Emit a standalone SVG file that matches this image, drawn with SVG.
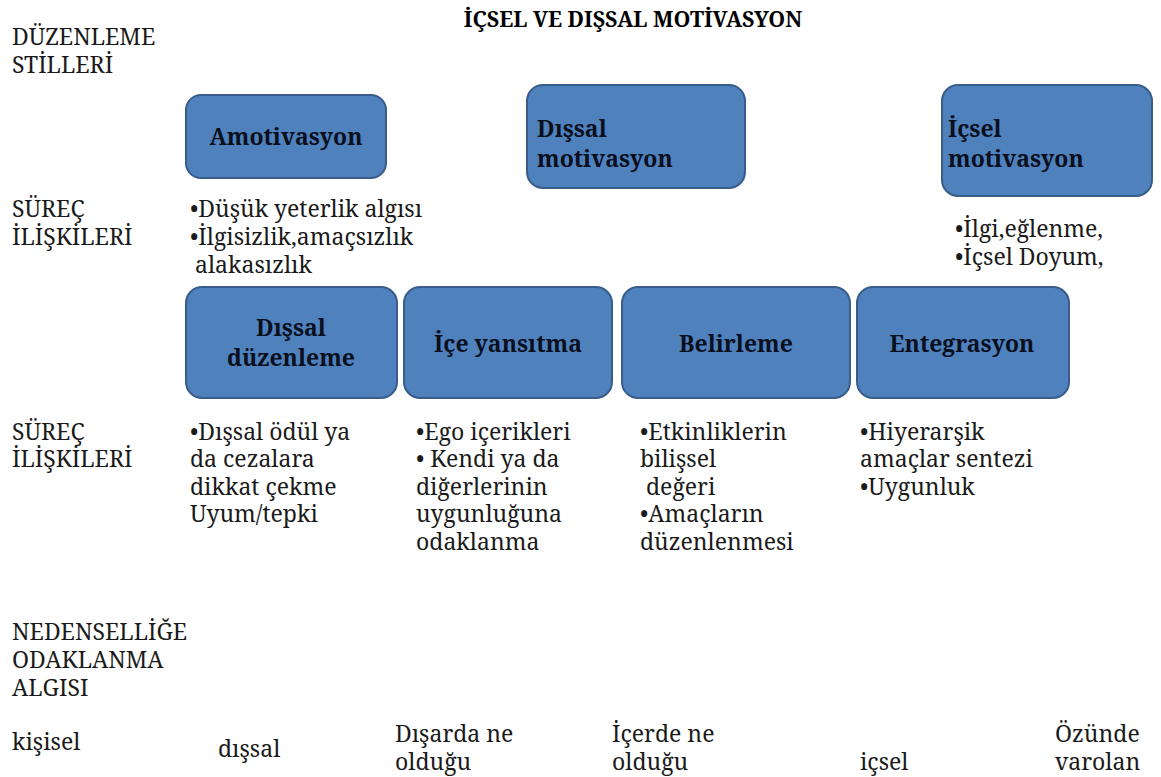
<svg xmlns="http://www.w3.org/2000/svg" width="1161" height="777" viewBox="0 0 1161 777">
<style>
.t{font-size:23px;fill:#1a1a1a}
.b{font-size:23px;font-weight:bold;fill:#0a0f1e}
.title{font-size:21.5px;font-weight:bold;fill:#000}
.box{fill:#4f81bd;stroke:#385d8a;stroke-width:2}
</style>
<rect width="1161" height="777" fill="#fff"/>
<g font-family="Noto Serif, DejaVu Serif">
<text class="title" x="633" y="27" text-anchor="middle">İÇSEL VE DIŞSAL MOTİVASYON</text>
<g id="labels">
<text class="t" x="12" y="45">DÜZENLEME</text>
<text class="t" x="12" y="73">STİLLERİ</text>
<text class="t" x="12" y="217">SÜREÇ</text>
<text class="t" x="12" y="245">İLİŞKİLERİ</text>
<text class="t" x="12" y="440">SÜREÇ</text>
<text class="t" x="12" y="467">İLİŞKİLERİ</text>
<text class="t" x="12" y="640">NEDENSELLİĞE</text>
<text class="t" x="12" y="668">ODAKLANMA</text>
<text class="t" x="12" y="696">ALGISI</text>
</g>
<g id="amotivasyon">
<rect class="box" x="186" y="95" width="200" height="83" rx="15"/>
<text class="b" x="286" y="145" text-anchor="middle">Amotivasyon</text>
</g>
<g id="dissal-motivasyon">
<rect class="box" x="527" y="85" width="218" height="103" rx="16"/>
<text class="b" x="537" y="137">Dışsal</text>
<text class="b" x="537" y="167">motivasyon</text>
</g>
<g id="icsel-motivasyon">
<rect class="box" x="942" y="85" width="210" height="111" rx="16"/>
<text class="b" x="948" y="137">İçsel</text>
<text class="b" x="948" y="167">motivasyon</text>
</g>
<g id="dissal-duzenleme">
<rect class="box" x="186" y="287" width="211" height="111" rx="16"/>
<text class="b" x="291" y="336" text-anchor="middle">Dışsal</text>
<text class="b" x="291" y="366" text-anchor="middle">düzenleme</text>
</g>
<g id="ice-yansitma">
<rect class="box" x="404" y="287" width="208" height="111" rx="16"/>
<text class="b" x="508" y="352" text-anchor="middle">İçe yansıtma</text>
</g>
<g id="belirleme">
<rect class="box" x="622" y="287" width="228" height="111" rx="16"/>
<text class="b" x="736" y="352" text-anchor="middle">Belirleme</text>
</g>
<g id="entegrasyon">
<rect class="box" x="857" y="287" width="212" height="111" rx="16"/>
<text class="b" x="962" y="352" text-anchor="middle">Entegrasyon</text>
</g>
<g id="bullets">
<text class="t" x="190" y="217">•Düşük yeterlik algısı</text>
<text class="t" x="190" y="245">•İlgisizlik,amaçsızlık</text>
<text class="t" x="195" y="273">alakasızlık</text>
<text class="t" x="955" y="237">•İlgi,eğlenme,</text>
<text class="t" x="955" y="265">•İçsel Doyum,</text>
<text class="t" x="190" y="440">•Dışsal ödül ya</text>
<text class="t" x="190" y="467">da cezalara</text>
<text class="t" x="190" y="495">dikkat çekme</text>
<text class="t" x="190" y="522">Uyum/tepki</text>
<text class="t" x="416" y="440">•Ego içerikleri</text>
<text class="t" x="416" y="467">• Kendi ya da</text>
<text class="t" x="416" y="495">diğerlerinin</text>
<text class="t" x="416" y="522">uygunluğuna</text>
<text class="t" x="416" y="550">odaklanma</text>
<text class="t" x="640" y="440">•Etkinliklerin</text>
<text class="t" x="640" y="467">bilişsel</text>
<text class="t" x="646" y="495">değeri</text>
<text class="t" x="640" y="522">•Amaçların</text>
<text class="t" x="640" y="550">düzenlenmesi</text>
<text class="t" x="860" y="440">•Hiyerarşik</text>
<text class="t" x="860" y="467">amaçlar sentezi</text>
<text class="t" x="860" y="495">•Uygunluk</text>
</g>
<g id="bottom">
<text class="t" x="12" y="750">kişisel</text>
<text class="t" x="218" y="757">dışsal</text>
<text class="t" x="395" y="742">Dışarda ne</text>
<text class="t" x="395" y="770">olduğu</text>
<text class="t" x="612" y="742">İçerde ne</text>
<text class="t" x="612" y="770">olduğu</text>
<text class="t" x="860" y="770">içsel</text>
<text class="t" x="1055" y="742">Özünde</text>
<text class="t" x="1055" y="770">varolan</text>
</g>
</g>
<g id="connectors"></g>
</svg>
